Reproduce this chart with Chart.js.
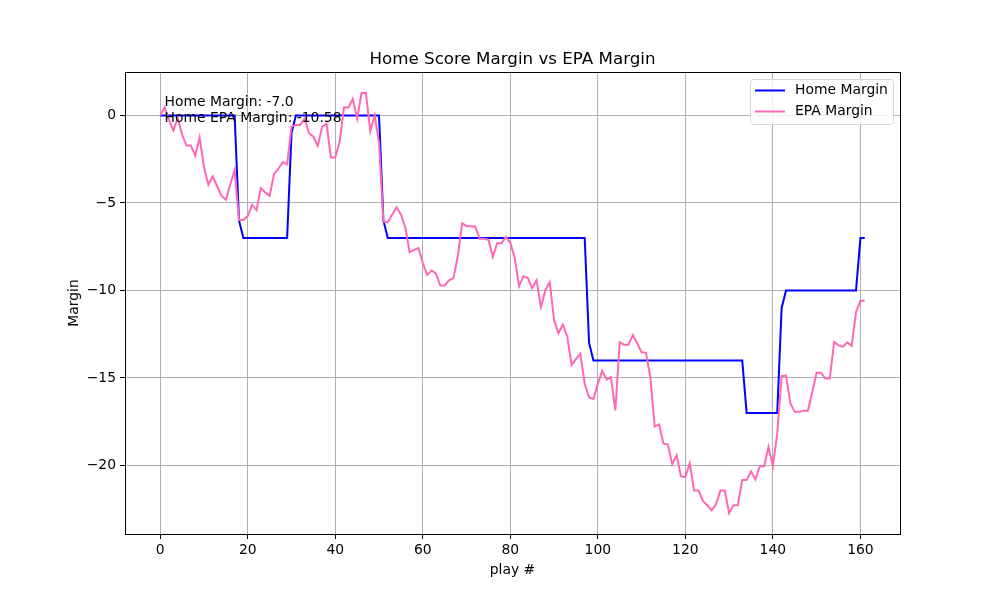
<!DOCTYPE html>
<html>
<head>
<meta charset="utf-8">
<script src="https://cdn.jsdelivr.net/npm/chart.js@4"></script>
<style>
  html, body { margin: 0; padding: 0; background: #fff; }
  #wrap { width: 1000px; height: 600px; }
</style>
</head>
<body>
<div id="wrap"><canvas id="container" width="1000" height="600"></canvas></div>
<script>
// score margin for the home team after each play
const homeMargin = [
  0, 0, 0, 0, 0, 0, 0, 0, 0, 0, 0, 0, 0, 0, 0, 0, 0, 0,
  -6, -7, -7, -7, -7, -7, -7, -7, -7, -7, -7, -7,
  -1, 0, 0, 0, 0, 0, 0, 0, 0, 0, 0, 0, 0, 0, 0, 0, 0, 0, 0, 0, 0,
  -6, -7, -7, -7, -7, -7, -7, -7, -7, -7, -7, -7, -7, -7, -7, -7, -7, -7, -7, -7, -7, -7,
  -7, -7, -7, -7, -7, -7, -7, -7, -7, -7, -7, -7, -7, -7, -7, -7, -7, -7, -7, -7, -7, -7,
  -7, -7, -7,
  -13, -14, -14, -14, -14, -14, -14, -14, -14, -14, -14, -14, -14, -14, -14, -14, -14, -14,
  -14, -14, -14, -14, -14, -14, -14, -14, -14, -14, -14, -14, -14, -14, -14, -14, -14, -14,
  -17, -17, -17, -17, -17, -17, -17, -17,
  -11, -10, -10, -10, -10, -10, -10, -10, -10, -10, -10, -10, -10, -10, -10, -10, -10, -10,
  -7, -7
];

// cumulative EPA margin for the home team
const epaMargin = [
  0, 0.45, -0.25, -0.87, -0.15, -1.1, -1.72, -1.72, -2.3, -1.25,
  -2.95, -3.97, -3.48, -4.05, -4.6, -4.82, -3.95, -3.12, -5.97, -5.97,
  -5.75, -5.1, -5.42, -4.15, -4.4, -4.6, -3.35, -3.05, -2.67, -2.8,
  -0.64, -0.55, -0.55, -0.17, -1.02, -1.22, -1.74, -0.65, -0.48, -2.4,
  -2.4, -1.5, 0.46, 0.45, 0.94, -0.18, 1.28, 1.28, -0.9, 0.01,
  -1.55, -6.08, -6.1, -5.68, -5.25, -5.66, -6.4, -7.82, -7.68, -7.58,
  -8.42, -9.12, -8.86, -9.03, -9.72, -9.72, -9.42, -9.3, -8.03, -6.16,
  -6.33, -6.33, -6.36, -7.05, -7.05, -7.1, -8.08, -7.3, -7.3, -6.93,
  -7.28, -8.14, -9.76, -9.2, -9.3, -9.88, -9.42, -10.95, -10.0, -9.52,
  -11.7, -12.45, -11.95, -12.62, -14.26, -13.93, -13.62, -15.33, -16.12, -16.2,
  -15.34, -14.6, -15.1, -14.96, -16.86, -12.97, -13.1, -13.1, -12.55, -13.02,
  -13.54, -13.57, -14.96, -17.78, -17.66, -18.76, -18.8, -19.94, -19.43, -20.63,
  -20.67, -19.87, -21.43, -21.43, -22.03, -22.28, -22.57, -22.22, -21.44, -21.44,
  -22.72, -22.27, -22.27, -20.83, -20.83, -20.34, -20.81, -20.05, -20.05, -18.94,
  -20.04, -18.17, -14.9, -14.87, -16.46, -16.94, -16.94, -16.88, -16.88, -15.8,
  -14.7, -14.7, -15.04, -15.04, -12.95, -13.14, -13.23, -12.97, -13.17, -11.24,
  -10.6, -10.58
];

const plays = Array.from({ length: homeMargin.length }, (_, i) => i);
const xTicks = [0, 20, 40, 60, 80, 100, 120, 140, 160];
const yTicks = [-20, -15, -10, -5, 0];

const FONT = '"DejaVu Sans", "Liberation Sans", sans-serif';

function toPoints(values)
{
  return plays.map((p, i) => ({ x: p, y: values[i] }));
}

// matplotlib-style 5% margins around the data
function paddedRange(values)
{
  const lo = Math.min(...values), hi = Math.max(...values);
  const m = (hi - lo) * 0.05;
  return { min: lo - m, max: hi + m };
}

const xr = paddedRange(plays);
const yr = paddedRange(homeMargin.concat(epaMargin));

const decorations = {
  id: 'decorations',
  afterDatasetsDraw(chart) {
    const c = chart.ctx;
    const a = chart.chartArea;
    const xs = chart.scales.x, ys = chart.scales.y;
    c.save();

    // frame
    c.strokeStyle = '#000';
    c.lineWidth = 1;
    c.strokeRect(Math.round(a.left) + 0.5, Math.round(a.top) + 0.5,
                 Math.round(a.right - a.left), Math.round(a.bottom - a.top));

    // title and axis labels
    c.fillStyle = '#000';
    c.textAlign = 'center';
    c.textBaseline = 'alphabetic';
    c.font = '16.7px ' + FONT;
    c.fillText('Home Score Margin vs EPA Margin', (a.left + a.right) / 2, a.top - 8);
    c.font = '13.9px ' + FONT;
    c.fillText('play #', (a.left + a.right) / 2, 574);
    c.save();
    c.translate(78, (a.top + a.bottom) / 2);
    c.rotate(-Math.PI / 2);
    c.fillText('Margin', 0, 0);
    c.restore();

    // final margins note
    const last = homeMargin.length - 1;
    c.textAlign = 'left';
    const tx = xs.getPixelForValue(1);
    const ty = ys.getPixelForValue(0);
    c.fillText('Home Margin: ' + homeMargin[last].toFixed(1), tx, ty - 9);
    c.fillText('Home EPA Margin: ' + epaMargin[last].toFixed(2), tx, ty + 7);

    // legend
    const lx = a.right - 150, ly = a.top + 7.5, lw = 143, lh = 45;
    c.beginPath();
    c.roundRect(lx + 0.5, ly, lw, lh, 3);
    c.fillStyle = 'rgba(255,255,255,0.8)';
    c.fill();
    c.strokeStyle = '#d6d6d6';
    c.lineWidth = 1;
    c.stroke();
    const items = [['Home Margin', 'blue'], ['EPA Margin', 'hotpink']];
    items.forEach((it, k) => {
      const y = ly + 11 + k * 21;
      c.strokeStyle = it[1];
      c.lineWidth = 2;
      c.beginPath();
      c.moveTo(lx + 5, y);
      c.lineTo(lx + 35, y);
      c.stroke();
      c.fillStyle = '#000';
      c.textBaseline = 'middle';
      c.fillText(it[0], lx + 45, y);
    });
    c.restore();
  }
};

new Chart(document.getElementById('container'), {
  type: 'line',
  data: {
    datasets: [
      {
        label: 'Home Margin',
        data: toPoints(homeMargin),
        borderColor: 'blue',
        borderWidth: 2,
        pointRadius: 0,
        tension: 0,
        order: 1
      },
      {
        label: 'EPA Margin',
        data: toPoints(epaMargin),
        borderColor: 'hotpink',
        borderWidth: 2,
        pointRadius: 0,
        tension: 0,
        order: 0
      }
    ]
  },
  options: {
    responsive: false,
    animation: false,
    devicePixelRatio: 1,
    layout: { padding: { left: 55, right: 100, top: 72, bottom: 16 } },
    plugins: { legend: { display: false }, title: { display: false }, tooltip: { enabled: false } },
    scales: {
      x: {
        type: 'linear',
        min: xr.min,
        max: xr.max,
        afterBuildTicks: s => { s.ticks = xTicks.map(v => ({ value: v })); },
        afterFit: s => { s.height = 50; },
        grid: { color: '#b0b0b0', lineWidth: 1, tickColor: '#000', tickLength: 5 },
        border: { color: '#000', width: 1 },
        ticks: { color: '#000', padding: 3, maxRotation: 0, font: { family: FONT, size: 13.9 } }
      },
      y: {
        type: 'linear',
        min: yr.min,
        max: yr.max,
        afterBuildTicks: s => { s.ticks = yTicks.map(v => ({ value: v })); },
        afterFit: s => { s.width = 70; },
        grid: { color: '#b0b0b0', lineWidth: 1, tickColor: '#000', tickLength: 5 },
        border: { color: '#000', width: 1 },
        ticks: {
          color: '#000',
          padding: 4,
          font: { family: FONT, size: 13.9 },
          callback: v => (v < 0 ? '\u2212' + Math.abs(v) : String(v))
        }
      }
    }
  },
  plugins: [decorations]
});
</script>
</body>
</html>
